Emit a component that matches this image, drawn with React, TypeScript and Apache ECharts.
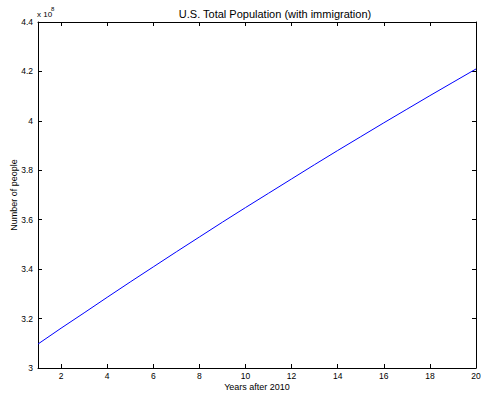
import React, { useEffect, useRef } from "react";
import * as echarts from "echarts";

const years: number[] = [1, 2, 3, 4, 5, 6, 7, 8, 9, 10, 11, 12, 13, 14, 15, 16, 17, 18, 19, 20];
const population: number[] = [
  3.097e8, 3.161e8, 3.223e8, 3.286e8, 3.348e8, 3.409e8, 3.47e8, 3.53e8, 3.59e8, 3.649e8,
  3.707e8, 3.765e8, 3.823e8, 3.88e8, 3.936e8, 3.992e8, 4.047e8, 4.102e8, 4.156e8, 4.21e8,
];
const xTicks: number[] = [2, 4, 6, 8, 10, 12, 14, 16, 18, 20];
const titleText = "U.S. Total Population (with immigration)";
const xName = "Years after 2010";
const yName = "Number of people";

const FONT = "'Liberation Sans', Arial, Helvetica, sans-serif";

export default function App() {
  const ref = useRef<HTMLDivElement>(null);
  useEffect(() => {
    if (!ref.current) return;
    const chart = echarts.init(ref.current, null, { renderer: "svg" });
    const axisLine = { show: true, onZero: false, lineStyle: { color: "#000", width: 1 } };
    const tick = { show: true, inside: true, length: 4, lineStyle: { color: "#000", width: 1 } };
    chart.setOption({
      animation: false,
      backgroundColor: "#fff",
      textStyle: { fontFamily: FONT },
      grid: { left: 38, top: 22, right: 6, bottom: 25, containLabel: false, outerBoundsMode: "none" },
      title: {
        text: titleText,
        left: 270,
        top: 3,
        textAlign: "center",
        textStyle: { fontSize: 11, fontWeight: "normal", color: "#000", fontFamily: FONT },
      },
      graphic: [
        { type: "text", left: 37, top: 10, style: { text: "x 10", fontSize: 8, fill: "#000", fontFamily: FONT } },
        { type: "text", left: 51, top: 6, style: { text: "8", fontSize: 6, fill: "#000", fontFamily: FONT } },
      ],
      xAxis: [
        {
          type: "value",
          position: "bottom",
          min: 1,
          max: 20,
          name: xName,
          nameLocation: "middle",
          nameGap: 14,
          nameMoveOverlap: false,
          nameTextStyle: { fontSize: 9, color: "#000", fontFamily: FONT, lineHeight: 9 },
          axisLine,
          axisTick: { ...tick, customValues: xTicks },
          axisLabel: { fontSize: 8.5, color: "#000", margin: 3, lineHeight: 9, customValues: xTicks, fontFamily: FONT },
          splitLine: { show: false },
        },
        {
          type: "value",
          position: "top",
          min: 1,
          max: 20,
          axisLine,
          axisTick: { ...tick, customValues: xTicks },
          axisLabel: { show: false, customValues: xTicks },
          splitLine: { show: false },
        },
      ],
      yAxis: [
        {
          type: "value",
          position: "left",
          min: 3e8,
          max: 4.4e8,
          interval: 2e7,
          name: yName,
          nameLocation: "middle",
          nameGap: 20,
          nameMoveOverlap: false,
          nameTextStyle: { fontSize: 9, color: "#000", fontFamily: FONT },
          axisLine,
          axisTick: tick,
          axisLabel: {
            fontSize: 8.5,
            color: "#000",
            margin: 5,
            fontFamily: FONT,
            formatter: (v: number) => String(Math.round((v / 1e8) * 10) / 10),
          },
          splitLine: { show: false },
        },
        {
          type: "value",
          position: "right",
          min: 3e8,
          max: 4.4e8,
          interval: 2e7,
          axisLine,
          axisTick: tick,
          axisLabel: { show: false },
          splitLine: { show: false },
        },
      ],
      series: [
        {
          type: "line",
          xAxisIndex: 0,
          yAxisIndex: 0,
          data: years.map((y, i) => [y, population[i]]),
          showSymbol: false,
          symbol: "none",
          lineStyle: { color: "#0000ff", width: 1 },
        },
      ],
    });
    return () => chart.dispose();
  }, []);
  return <div ref={ref} style={{ position: "absolute", left: 0, top: 0, width: 482, height: 393 }} />;
}
